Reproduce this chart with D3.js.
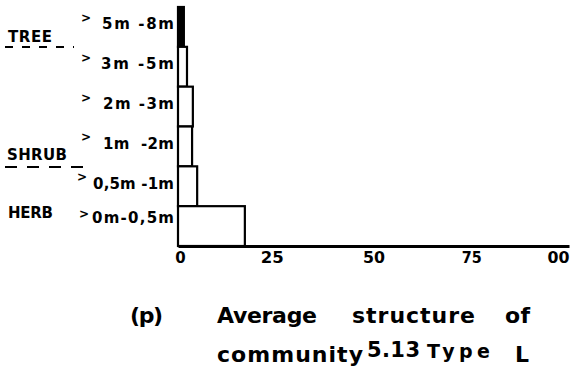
<!DOCTYPE html>
<html>
<head>
<meta charset="utf-8">
<script src="https://cdn.jsdelivr.net/npm/d3@7"></script>
<style>
  html, body { margin: 0; padding: 0; background: #fff; }
  svg { display: block; font-family: "DejaVu Sans", sans-serif; font-weight: bold; }
</style>
</head>
<body>
<svg id="chart" width="587" height="369"></svg>
<script>
// ---- data ----
const categories = ["5m -8m", "3m -5m", "2m -3m", "1m  -2m", "0,5m -1m", "0m-0,5m"];
const values = [1.5, 2.3, 3.8, 3.6, 4.9, 17.1];
const tickValues = [0, 25, 50, 75, 100];
const tickLabels = ["0", "25", "50", "75", "00"];
const strata = ["TREE", "SHRUB", "HERB"];
const captionLine1 = ["(p)", "Average", "structure", "of"];
const captionLine2 = ["community", "5.13", "Type", "L"];

// ---- layout (style only) ----
const FONT = "DejaVu Sans, sans-serif";
const labelWidths = [72, 73, 71, 71, 81, 82];
const svg = d3.select("#chart");
const x = d3.scaleLinear().domain([0, 100]).range([178, 569]);
const y = d3.scaleBand().domain(categories).range([7, 246]).paddingInner(0).paddingOuter(0);

// bars
svg.append("g").selectAll("rect").data(values).join("rect")
  .attr("x", x(0))
  .attr("y", (d, i) => y(categories[i]))
  .attr("width", d => x(d) - x(0))
  .attr("height", y.bandwidth())
  .attr("fill", (d, i) => i === 0 ? "#000" : "#fff")
  .attr("stroke", "#000")
  .attr("stroke-width", 2.2);

// x axis
const xAxis = d3.axisBottom(x).tickValues(tickValues)
  .tickFormat((d, i) => tickLabels[i]).tickSize(0).tickPadding(6);
const gx = svg.append("g").attr("transform", "translate(0,246)").call(xAxis);
gx.select(".domain").attr("stroke", "#000").attr("stroke-width", 2.8);
const tickW = [9, 23, 22, 20, 22];
gx.selectAll(".tick text")
  .attr("font-size", 15).attr("font-weight", "bold").attr("font-family", FONT)
  .attr("fill", "#000")
  .attr("text-anchor", (d, i) => i === tickValues.length - 1 ? "end" : "middle")
  .attr("dx", (d, i) => i === 0 ? 2 : (i === 1 ? -4 : 0))
  .each(function(d, i) { if (i > 0) d3.select(this).attr("textLength", tickW[i]).attr("lengthAdjust", "spacingAndGlyphs"); });

// y axis (labels only)
const yAxis = d3.axisLeft(y).tickSize(0).tickPadding(4);
const gy = svg.append("g").attr("transform", "translate(178,0)").call(yAxis);
gy.select(".domain").remove();
gy.selectAll(".tick text")
  .attr("font-size", 15).attr("font-weight", "bold").attr("font-family", FONT)
  .attr("fill", "#000")
  .attr("dy", (d, i) => i === categories.length - 1 ? "-0.2em" : "0.15em")
  .attr("textLength", (d, i) => labelWidths[i])
  .attr("lengthAdjust", "spacing")
  .style("white-space", "pre");

// raised ">" markers
const markerX = [81, 81, 81, 81, 77, 79];
svg.append("g").selectAll("text").data(categories).join("text")
  .attr("x", (d, i) => markerX[i])
  .attr("y", (d, i) => y(d) + y.bandwidth() / 2 + (i === categories.length - 1 ? -8 : -5))
  .attr("font-size", 12)
  .text(">");

// strata labels
const strataY = [42, 160, 218];
svg.append("g").selectAll("text").data(strata).join("text")
  .attr("x", (d, i) => i === 0 ? 8 : (i === 1 ? 7 : 8))
  .attr("y", (d, i) => strataY[i])
  .attr("font-size", 15)
  .attr("textLength", (d, i) => [44, 60, 45][i])
  .attr("lengthAdjust", "spacing")
  .text(d => d);

// dashed separators
svg.append("line").attr("x1", 5).attr("x2", 74).attr("y1", 47).attr("y2", 47)
  .attr("stroke", "#000").attr("stroke-width", 2).attr("stroke-dasharray", "8,9");
svg.append("line").attr("x1", 5).attr("x2", 84).attr("y1", 167).attr("y2", 167)
  .attr("stroke", "#000").attr("stroke-width", 2.2).attr("stroke-dasharray", "12,10");

// caption
const c1 = [{x: 130, w: 33, fs: 22, y: 323}, {x: 217, w: 100, fs: 22, y: 323},
            {x: 352, w: 123, fs: 22, y: 323}, {x: 505, w: 25, fs: 22, y: 323}];
const c2 = [{x: 217, w: 146, fs: 22, y: 362}, {x: 367, w: 53, fs: 21, y: 357},
            {x: 427, w: 63, fs: 19, y: 358}, {x: 515, w: 15, fs: 22, y: 362}];
svg.append("g").selectAll("text").data(captionLine1).join("text")
  .attr("x", (d, i) => c1[i].x).attr("y", (d, i) => c1[i].y)
  .attr("font-size", (d, i) => c1[i].fs)
  .attr("textLength", (d, i) => c1[i].w).attr("lengthAdjust", "spacing")
  .text(d => d);
svg.append("g").selectAll("text").data(captionLine2).join("text")
  .attr("x", (d, i) => c2[i].x).attr("y", (d, i) => c2[i].y)
  .attr("font-size", (d, i) => c2[i].fs)
  .attr("textLength", (d, i) => c2[i].w).attr("lengthAdjust", "spacing")
  .text(d => d);
</script>
</body>
</html>
